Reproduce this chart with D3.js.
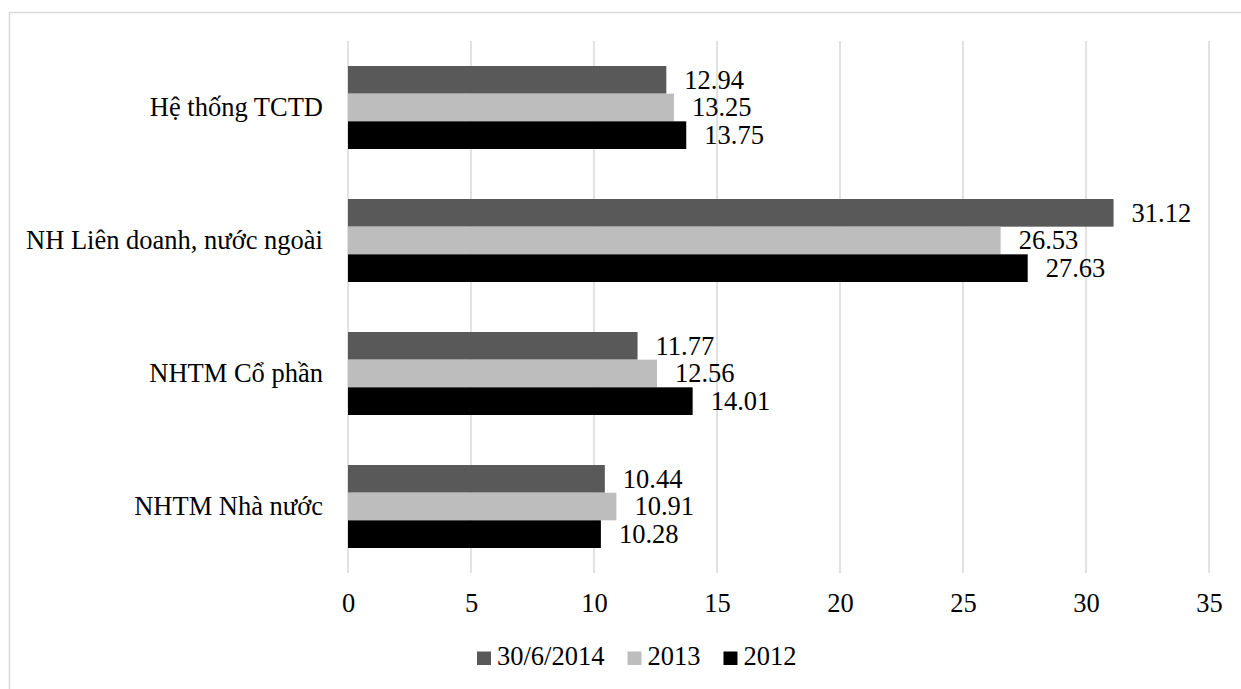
<!DOCTYPE html>
<html>
<head>
<meta charset="utf-8">
<script src="https://cdn.jsdelivr.net/npm/d3@7"></script>
<style>
  html, body { margin: 0; padding: 0; background: #fff; }
  svg { display: block; }
  text { font-family: "Liberation Serif", "Times New Roman", serif; fill: #000; }
</style>
</head>
<body>
<svg id="chart" width="1241" height="689"></svg>
<script>
// ---- data ----
const categories = ["Hệ thống TCTD", "NH Liên doanh, nước ngoài", "NHTM Cổ phần", "NHTM Nhà nước"];
const seriesNames = ["30/6/2014", "2013", "2012"];
const values2014 = [12.94, 31.12, 11.77, 10.44];
const values2013 = [13.25, 26.53, 12.56, 10.91];
const values2012 = [13.75, 27.63, 14.01, 10.28];
const xTicks = [0, 5, 10, 15, 20, 25, 30, 35];
const seriesColors = ["#595959", "#bdbdbd", "#000000"];

const seriesValues = [values2014, values2013, values2012];

const svg = d3.select("#chart");
const FONT = 26.5;
const SERIF = "'Liberation Serif', 'Times New Roman', serif";

// outer chart border
svg.append("rect")
  .attr("x", 9.5).attr("y", 12.5)
  .attr("width", 1260).attr("height", 720)
  .attr("fill", "none").attr("stroke", "#d9d9d9").attr("stroke-width", 1.5);

const plot = { left: 348, right: 1209, top: 41, bottom: 573 };

const x = d3.scaleLinear().domain([0, 35]).range([plot.left, plot.right]);
const y = d3.scaleBand().domain(categories).range([plot.top, plot.bottom])
  .paddingInner(0.376).paddingOuter(0.188);
const ySub = d3.scaleBand().domain(seriesNames).range([0, y.bandwidth()]).padding(0);

// gridlines
svg.append("g").selectAll("line").data(xTicks).join("line")
  .attr("x1", d => x(d)).attr("x2", d => x(d))
  .attr("y1", plot.top).attr("y2", plot.bottom)
  .attr("stroke", "#d9d9d9").attr("stroke-width", 1.5);

// x axis tick labels via d3 axis
const xAxis = d3.axisBottom(x).tickValues(xTicks).tickSize(0).tickPadding(0).tickFormat(d3.format("d"));
const gx = svg.append("g").attr("transform", `translate(0, ${plot.bottom})`).call(xAxis);
gx.select(".domain").remove();
gx.selectAll("text")
  .attr("y", 0).attr("dy", null)
  .attr("transform", "translate(0,39)")
  .style("font-family", SERIF)
  .style("font-size", FONT + "px").attr("fill", "#000");

// y axis category labels via d3 axis
const yAxis = d3.axisLeft(y).tickSize(0).tickPadding(25);
const gy = svg.append("g").attr("transform", `translate(${plot.left}, 0)`).call(yAxis);
gy.select(".domain").remove();
gy.selectAll("text")
  .style("font-family", SERIF)
  .style("font-size", FONT + "px").attr("fill", "#000").attr("dy", "0.33em");

// bars
const rows = [];
categories.forEach((c, ci) => {
  seriesNames.forEach((s, si) => {
    rows.push({ cat: c, series: s, si: si, value: seriesValues[si][ci] });
  });
});

svg.append("g").selectAll("rect").data(rows).join("rect")
  .attr("x", x(0))
  .attr("y", d => y(d.cat) + ySub(d.series))
  .attr("width", d => x(d.value) - x(0))
  .attr("height", ySub.bandwidth())
  .attr("fill", d => seriesColors[d.si]);

// value labels
svg.append("g").selectAll("text").data(rows).join("text")
  .attr("x", d => x(d.value) + 18)
  .attr("y", d => y(d.cat) + ySub(d.series) + ySub.bandwidth() / 2)
  .attr("dy", "0.33em")
  .style("font-family", SERIF)
  .style("font-size", FONT + "px")
  .text(d => d3.format(".2f")(d.value));

// legend
const legend = svg.append("g");
let lx = 477;
const ly = 665;
seriesNames.forEach((s, i) => {
  legend.append("rect")
    .attr("x", lx).attr("y", ly - 13.5).attr("width", 14).attr("height", 13.5)
    .attr("fill", seriesColors[i]);
  const t = legend.append("text")
    .attr("x", lx + 20).attr("y", ly)
    .style("font-family", SERIF)
    .style("font-size", FONT + "px")
    .text(s);
  const w = t.node().getComputedTextLength();
  lx = lx + 20 + w + 23;
});
</script>
</body>
</html>
